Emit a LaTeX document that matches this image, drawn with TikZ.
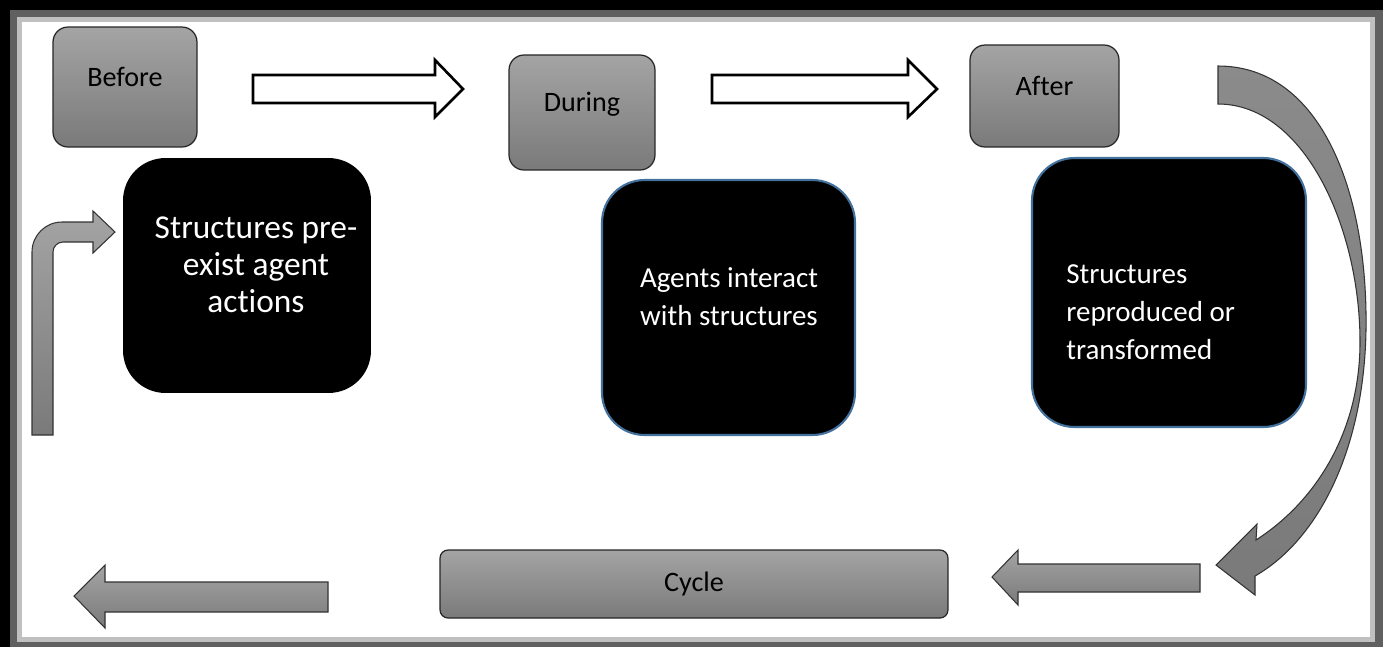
\documentclass[tikz,border=0pt]{standalone}
\usepackage{fontspec}
\setmainfont{Carlito}[Ligatures=NoCommon]
\definecolor{boxtop}{HTML}{A4A4A4}
\definecolor{boxbot}{HTML}{7A7A7A}
\definecolor{edgeblue}{HTML}{41719C}
\definecolor{framedark}{HTML}{606060}
\definecolor{framelight}{HTML}{C0C0C0}
\tikzset{
  stage/.style={draw=black!85, line width=0.7pt, rounded corners=0.3cm,
    top color=boxtop, bottom color=boxbot, inner sep=0pt,
    text height=11.5pt, text depth=12.3pt, font=\fontsize{16}{19}\selectfont},
  phase/.style={fill=black, rounded corners=0.85cm, inner sep=0pt},
  phasetext/.style={text=white, align=center, inner sep=0pt},
  hollow/.style={draw=black, line width=1.5pt, fill=white},
  shaded/.style={draw=black!80, line width=0.6pt, top color=boxtop, bottom color=boxbot},
}
\begin{document}
\begin{tikzpicture}[x=0.02cm, y=-0.02cm]
\useasboundingbox (0,0) rectangle (1383,647);
% frame
\fill[black] (0,0) rectangle (1383,647);
\fill[framedark] (10,10) rectangle (1383,647);
\fill[framelight] (17,17) rectangle (1375,642);
\fill[white] (22,22) rectangle (1370,637);

% stages
\node[stage, minimum width=2.88cm, minimum height=2.4cm] (before) at (125,87) {Before};
\node[stage, minimum width=2.92cm, minimum height=2.3cm] (during) at (582,112.5) {During};
\node[stage, minimum width=2.98cm, minimum height=2.04cm] (after) at (1044.5,96) {After};
\node[stage, rounded corners=0.16cm, text height=, text depth=, minimum width=10.16cm, minimum height=1.36cm] (cycle) at (694,584) {Cycle};

% phases
\node[phase, minimum width=4.96cm, minimum height=4.7cm] (pre) at (247,275.5) {};
\node[phase, draw=edgeblue, line width=1.2pt, minimum width=5.06cm, minimum height=5.1cm] (agents) at (728.5,307.5) {};
\node[phase, draw=edgeblue, line width=1.2pt, minimum width=5.48cm, minimum height=5.38cm] (trans) at (1169,292.5) {};
\node[phasetext, font=\fontsize{19}{21}\selectfont] (pretxt) at (256,265) {Structures pre-\\exist agent\\actions};
\node[phasetext, font=\fontsize{16.5}{21.5}\selectfont] (agentstxt) at (729,297) {Agents interact\\with structures};
\node[phasetext, align=left, anchor=west, font=\fontsize{16.5}{21.5}\selectfont] (transtxt) at (1066,312) {Structures\\reproduced or\\transformed};

% hollow arrows
\draw[hollow] (253,75) -- (435,75) -- (435,60) -- (463,89) -- (435,117) -- (435,103) -- (253,103) -- cycle;
\draw[hollow] (712,75) -- (908,75) -- (908,60) -- (937,89) -- (908,117) -- (908,103) -- (712,103) -- cycle;

% shaded arrows
\draw[shaded] (328,582) -- (105,582) -- (105,565) -- (74,596) -- (105,628) -- (105,612) -- (328,612) -- cycle;
\draw[shaded] (1200,564) -- (1018,564) -- (1018,550) -- (992,577) -- (1018,605) -- (1018,592) -- (1200,592) -- cycle;
\draw[shaded] (32,435) -- (32,252) arc[start angle=180, end angle=270, radius=30] -- (93,222) -- (93,211)
  -- (115,232) -- (93,253) -- (93,242) -- (63,242) arc[start angle=270, end angle=180, radius=10] -- (53,435) -- cycle;
\draw[shaded, top color=boxbot!60!boxtop, bottom color=boxbot] (1218,66) .. controls (1320,66) and (1368,190) .. (1366,330)
  .. controls (1364,450) and (1318,540) .. (1255,576) -- (1255,595) -- (1216,565) -- (1257,524) -- (1256,540)
  .. controls (1318,500) and (1359,430) .. (1360,345)
  .. controls (1361,230) and (1305,104) .. (1218,104) -- cycle;
\end{tikzpicture}
\end{document}
